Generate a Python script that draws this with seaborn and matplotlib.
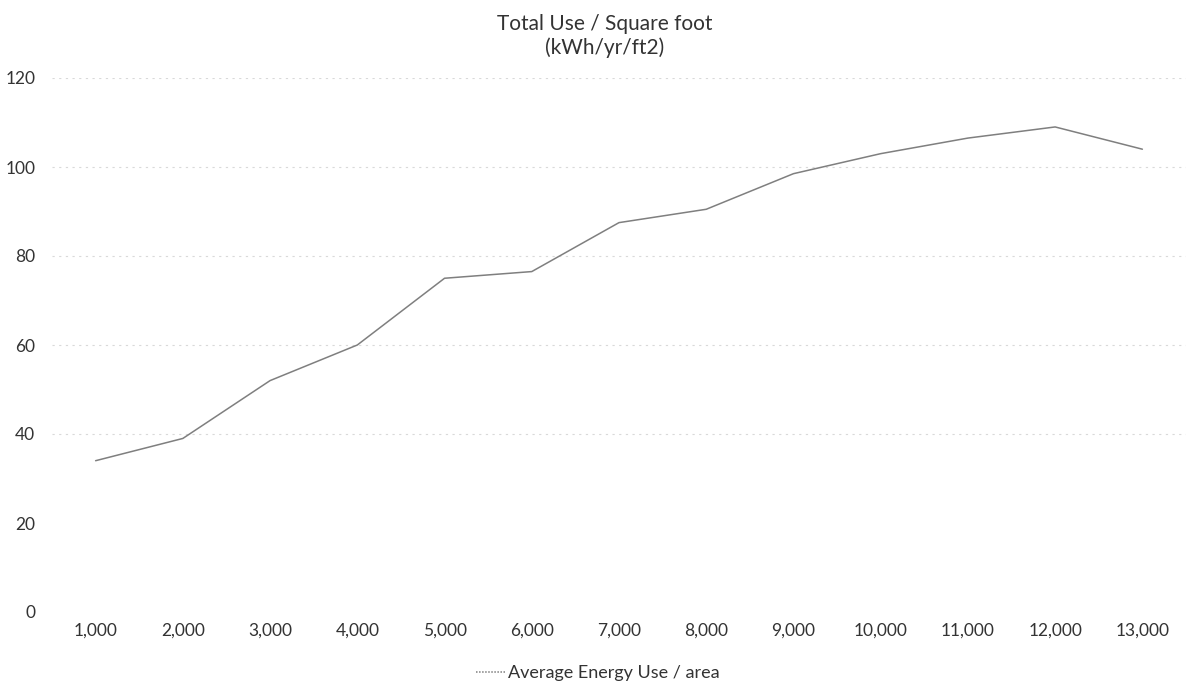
import numpy as np
import pandas as pd
import matplotlib
matplotlib.use("Agg")
import matplotlib.pyplot as plt
from matplotlib.lines import Line2D
import seaborn as sns

# values
sizes = ["1,000", "2,000", "3,000", "4,000", "5,000", "6,000", "7,000",
         "8,000", "9,000", "10,000", "11,000", "12,000", "13,000"]
energy_per_area = [34, 39, 52, 60, 75, 76.5, 87.5, 90.5, 98.5, 103, 106.5, 109, 104]
y_ticks = [0, 20, 40, 60, 80, 100, 120]
grid_levels = [40, 60, 80, 100, 120]

title = "Total Use / Square foot\n(kWh/yr/ft2)"
series_name = "Average Energy Use / area"

sns.set_theme(style="white")
plt.rcParams['font.family'] = ['Lato', 'DejaVu Sans']

df = pd.DataFrame({"pos": np.arange(len(sizes)), "value": energy_per_area})

fig = plt.figure(figsize=(11.91, 6.87), dpi=100)
ax = fig.add_axes([52 / 1191, 1 - 612 / 687, (1186 - 52) / 1191, (612 - 78) / 687])

# faint broken gridlines like the scan
for lvl in grid_levels:
    ax.axhline(lvl, color="#d9d9d9", lw=0.8, ls=(0, (2, 4)), zorder=0)

line_color = "#7f7f7f"
sns.lineplot(data=df, x="pos", y="value", ax=ax, color=line_color,
             linewidth=1.1, legend=False)

ax.set_xlim(-0.5, len(sizes) - 0.5)
ax.set_ylim(0, 120)
ax.set_xticks(df["pos"])
ax.set_xticklabels(sizes)
ax.set_yticks(y_ticks)
ax.set_xlabel("")
ax.set_ylabel("")
ax.tick_params(axis="x", length=0, pad=8, labelsize=12.5, labelcolor="#333333")
ax.tick_params(axis="y", length=0, pad=12, labelsize=12.5, labelcolor="#333333")
for s in ax.spines.values():
    s.set_visible(False)

fig.text(605 / 1191, 1 - 36 / 687, title, ha="center", va="center",
         fontsize=15, color="#333333", linespacing=1.2)

# legend handle drawn separately so the plotted line stays solid
handle = Line2D([], [], color=line_color, lw=1.1, ls=(0, (1, 1)))
fig.legend([handle], [series_name], loc="center", bbox_to_anchor=(598 / 1191, 1 - 673 / 687),
           frameon=False, fontsize=13, handlelength=1.6, handletextpad=0.2,
           labelcolor="#333333")

fig.savefig("out.png", dpi=100)
